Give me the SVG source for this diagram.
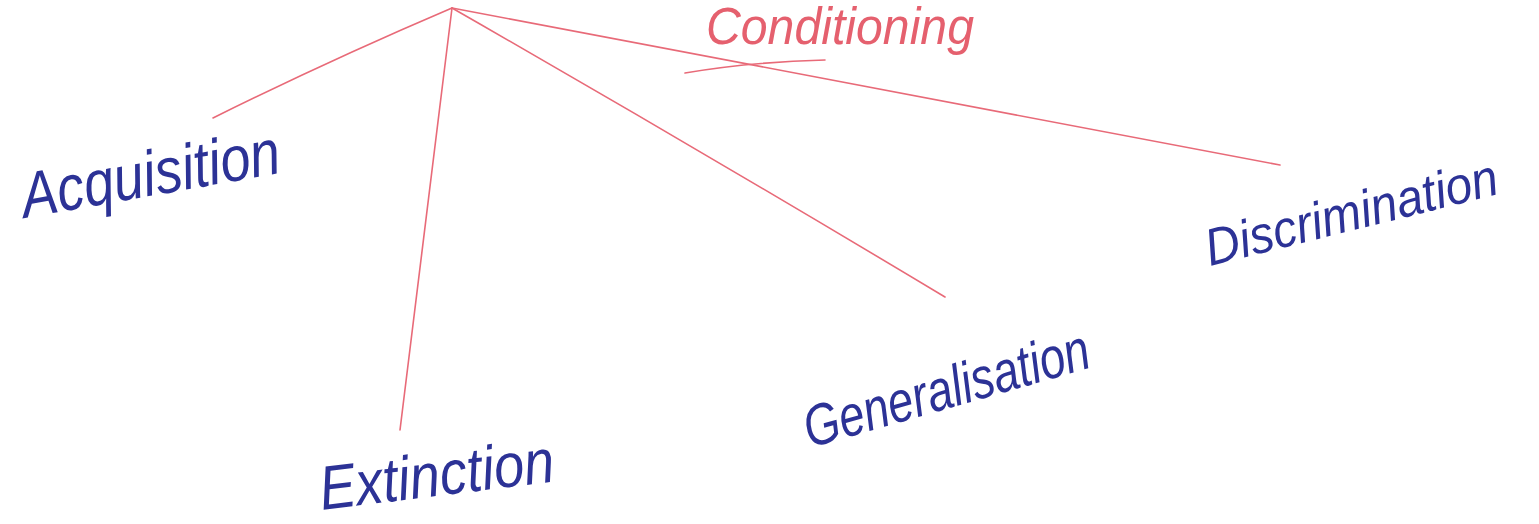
<svg xmlns="http://www.w3.org/2000/svg" width="1539" height="524" viewBox="0 0 1539 524">
<style>
.c{stroke:#e86a78;stroke-width:1.6;fill:none;stroke-linecap:round}
.lbl{font-family:"Liberation Sans",Arial,sans-serif;font-style:italic;fill:#2c3296}
.red{font-family:"Liberation Sans",Arial,sans-serif;font-style:italic;fill:#e5606e}
</style>
<rect width="1539" height="524" fill="#ffffff"/>
<g id="connectors">
<path class="c" d="M452,8 Q330,60 213,118"/>
<path class="c" d="M452,8 L400,430"/>
<path class="c" d="M452,8 Q700,150 945,297"/>
<path class="c" d="M452,8 L1280,165"/>
<path class="c" d="M685,73 Q750,62 825,60"/>
</g>
<g id="root">
<text class="red" x="706" y="44" font-size="52" textLength="268" lengthAdjust="spacingAndGlyphs">Conditioning</text>
</g>
<g id="acquisition">
<text class="lbl" x="25" y="218" font-size="64" textLength="262" lengthAdjust="spacingAndGlyphs" transform="rotate(-10 25 218)">Acquisition</text>
</g>
<g id="extinction">
<text class="lbl" x="322" y="510" font-size="62" textLength="236" lengthAdjust="spacingAndGlyphs" transform="rotate(-7 322 510)">Extinction</text>
</g>
<g id="generalisation">
<text class="lbl" x="810" y="448" font-size="58" textLength="295" lengthAdjust="spacingAndGlyphs" transform="rotate(-16 810 448)">Generalisation</text>
</g>
<g id="discrimination">
<text class="lbl" x="1210" y="266" font-size="52" textLength="300" lengthAdjust="spacingAndGlyphs" transform="rotate(-14 1210 266)">Discrimination</text>
</g>
</svg>
